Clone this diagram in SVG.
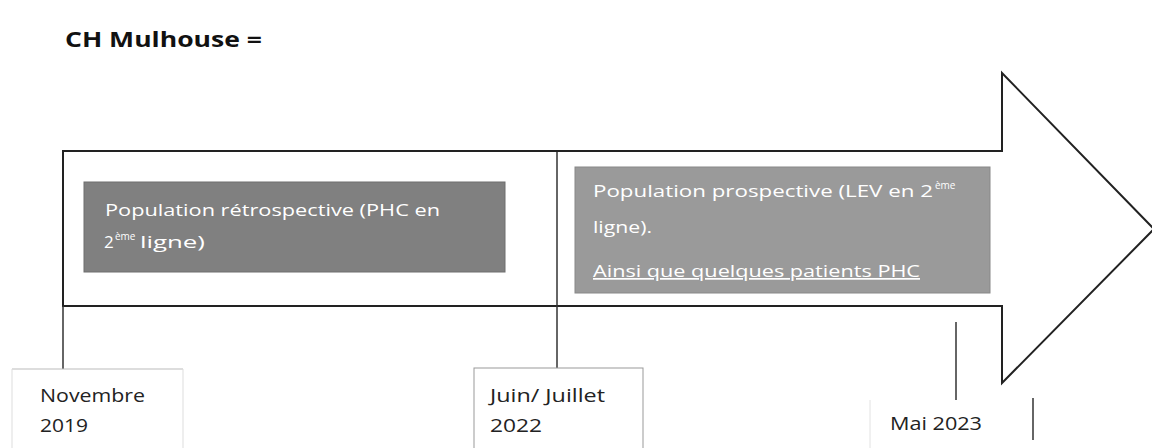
<svg xmlns="http://www.w3.org/2000/svg" width="1152" height="448" viewBox="0 0 1152 448">
<style>
.t{font-family:"Open Sans","Liberation Sans",sans-serif;font-size:18px;fill:#222}
.w{font-family:"Open Sans","Liberation Sans",sans-serif;font-size:17px;fill:#fff}
.s{font-family:"Open Sans","Liberation Sans",sans-serif;font-size:10px;fill:#fff}
.ln{stroke:#333;stroke-width:1.5;fill:none}
</style>
<rect width="1152" height="448" fill="#fff"/>
<text x="65" y="47" font-family="'Open Sans','Liberation Sans',sans-serif" font-size="21" font-weight="bold" fill="#111" textLength="197" lengthAdjust="spacingAndGlyphs">CH Mulhouse =</text>
<g id="arrow">
<polygon points="63,151 1002,151 1002,73 1154,229 1002,383 1002,306 63,306" fill="#fff" stroke="#222" stroke-width="2"/>
</g>
<g id="connectors">
<line class="ln" x1="63" y1="306" x2="63" y2="369"/>
<line class="ln" x1="557" y1="152" x2="557" y2="368"/>
<line class="ln" x1="956" y1="322" x2="956" y2="400"/>
<line class="ln" x1="1033" y1="398" x2="1033" y2="440"/>
</g>
<g id="retro">
<rect x="84" y="182" width="421" height="90" fill="#808080" stroke="#6e6e6e" stroke-width="1"/>
<text class="w" x="105" y="216" textLength="335" lengthAdjust="spacingAndGlyphs">Population rétrospective (PHC en</text>
<text class="w" x="104" y="248">2</text>
<text class="s" x="115" y="240">ème</text>
<text class="w" x="140" y="248" textLength="65" lengthAdjust="spacingAndGlyphs">ligne)</text>
</g>
<g id="prosp">
<rect x="575" y="167" width="415" height="126" fill="#9a9a9a" stroke="#888" stroke-width="1"/>
<text class="w" x="593" y="197" textLength="340" lengthAdjust="spacingAndGlyphs">Population prospective (LEV en 2</text>
<text class="s" x="935" y="189">ème</text>
<text class="w" x="593" y="233" textLength="59" lengthAdjust="spacingAndGlyphs">ligne).</text>
<text class="w" x="593" y="277" textLength="327" lengthAdjust="spacingAndGlyphs" text-decoration="underline">Ainsi que quelques patients PHC</text>
</g>
<g id="nov2019">
<line x1="12" y1="369" x2="183" y2="369" stroke="#bbb"/>
<line x1="183" y1="369" x2="183" y2="448" stroke="#ddd"/>
<line x1="12" y1="369" x2="12" y2="448" stroke="#ddd"/>
<text class="t" x="40" y="402" textLength="105" lengthAdjust="spacingAndGlyphs">Novembre</text>
<text class="t" x="40" y="432" textLength="48" lengthAdjust="spacingAndGlyphs">2019</text>
</g>
<g id="juin2022">
<rect x="474" y="368" width="169" height="82" fill="none" stroke="#999" stroke-width="1"/>
<text class="t" x="490" y="402" textLength="115" lengthAdjust="spacingAndGlyphs">Juin/ Juillet</text>
<text class="t" x="490" y="432" textLength="52" lengthAdjust="spacingAndGlyphs">2022</text>
</g>
<g id="mai2023">
<line x1="870" y1="400" x2="870" y2="448" stroke="#e2e2e2"/>
<text class="t" x="890" y="430" textLength="92" lengthAdjust="spacingAndGlyphs">Mai 2023</text>
</g>
</svg>
